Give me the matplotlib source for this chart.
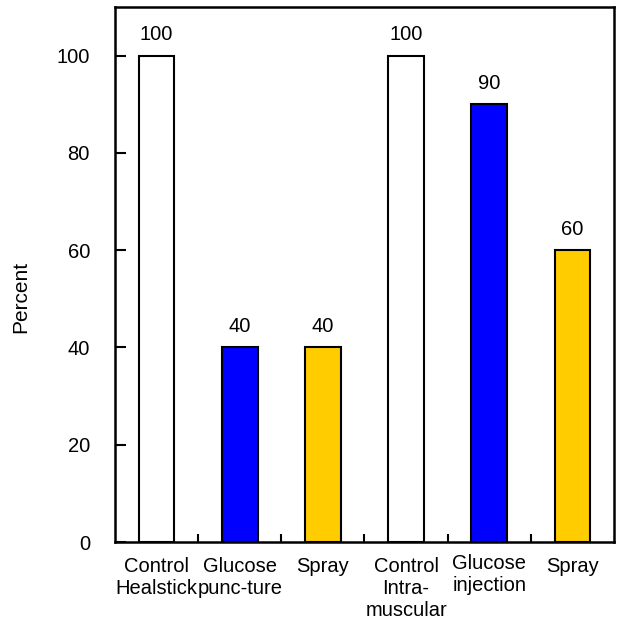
import matplotlib
matplotlib.use("Agg")
import matplotlib.pyplot as plt
import numpy as np

plt.rcParams['font.family'] = ['Liberation Sans', 'DejaVu Sans']

categories = ["Control\nHealstick", "Glucose\npunc-ture", "Spray",
              "Control\nIntra-\nmuscular", "Glucose\ninjection", "Spray"]
values = [100, 40, 40, 100, 90, 60]
colors = ["#FFFFFF", "#0000FF", "#FFCC00", "#FFFFFF", "#0000FF", "#FFCC00"]
yticks = [0, 20, 40, 60, 80, 100]

fig = plt.figure(figsize=(6.18, 6.22), dpi=100)
ax = fig.add_axes([115/618, 1 - 542/622, 499/618, 535/622])

x = np.arange(len(values))
ax.bar(x, values, width=0.43, color=colors, edgecolor="black", linewidth=1.5, zorder=3)
for xi, v in zip(x, values):
    ax.text(xi, v + 2.3, str(v), ha="center", va="bottom", fontsize=14.5)

ax.set_xlim(-0.5, len(values) - 0.5)
ax.set_ylim(0, 110)
ax.set_yticks(yticks)
ax.set_yticklabels([str(t) for t in yticks], fontsize=14.5)
ax.tick_params(axis="y", direction="in", length=8, width=1.5, pad=18)

ax.set_xticks(x)
ax.set_xticklabels(categories, fontsize=14.5, linespacing=1.2)
ax.tick_params(axis="x", which="major", length=0, pad=11)
ax.set_xticks(x[:-1] + 0.5, minor=True)
ax.tick_params(axis="x", which="minor", direction="in", length=6, width=1.5)
# "Glucose injection" label sits slightly higher in the reference
ax.get_xticklabels()[4].set_y(0.006)

for s in ax.spines.values():
    s.set_linewidth(1.8)

ax.set_ylabel("Percent", fontsize=15)
ax.yaxis.label.set_va("center")
ax.yaxis.label.set_ha("center")
ax.yaxis.set_label_coords((21 - 115) / 499, (542 - 297) / 535)

fig.savefig("out.png", dpi=100)
